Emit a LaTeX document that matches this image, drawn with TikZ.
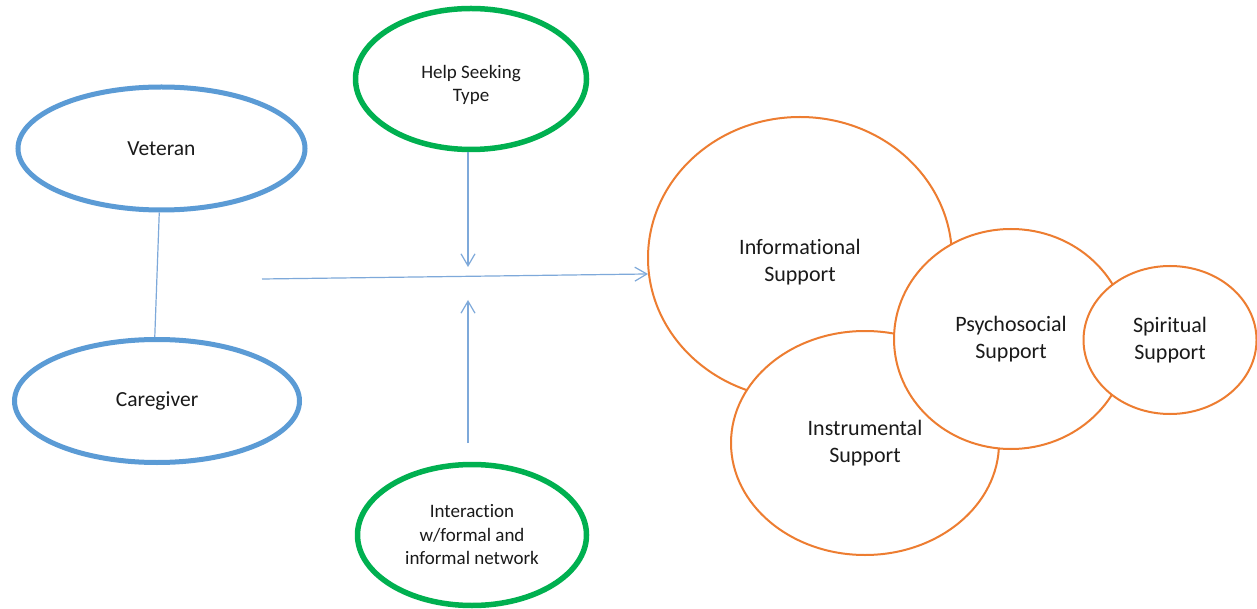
\documentclass[tikz,border=0pt]{standalone}
\usepackage{fontspec}
\setmainfont{Carlito}[Ligatures=NoCommon]
\usetikzlibrary{shapes.geometric,arrows.meta}
\definecolor{vblue}{HTML}{5B9BD5}
\definecolor{lblue}{HTML}{7EA9DA}
\definecolor{vgreen}{HTML}{00B050}
\definecolor{vorange}{HTML}{ED7D31}
\definecolor{txt}{HTML}{1A1A1A}
\tikzset{
  blueell/.style={ellipse, draw=vblue, line width=5pt, fill=white, text=txt, inner sep=0pt,
    font=\fontsize{21.5}{26}\selectfont},
  greenell/.style={ellipse, draw=vgreen, line width=5.5pt, fill=white, text=txt, inner sep=0pt, align=center,
    font=\fontsize{19}{23.5}\selectfont},
  greentext/.style={text=txt, inner sep=0pt, align=center, font=\fontsize{19}{23.5}\selectfont},
  orangeell/.style={ellipse, draw=vorange, line width=2pt, fill=white, text=txt, inner sep=0pt, align=center,
    font=\fontsize{22}{26.7}\selectfont},
  orangetext/.style={text=txt, inner sep=0pt, align=center, font=\fontsize{22}{26.7}\selectfont},
  conn/.style={draw=lblue, line width=1.2pt, -{Straight Barb[length=12pt,width=14pt,line width=1.2pt]}},
  plainconn/.style={draw=lblue, line width=1.2pt}
}
\begin{document}
\begin{tikzpicture}[x=1pt,y=-1pt]
\useasboundingbox[fill=white] (0,0) rectangle (1257,609);
% left pair
\node[blueell, minimum width=287pt, minimum height=123pt] (vet) at (161.5,148.5) {Veteran};
\node[blueell, minimum width=285pt, minimum height=123pt] (care) at (157,401) {Caregiver};
\draw[plainconn] (vet.268) -- (care.92);
% moderators
\node[greenell, minimum width=231pt, minimum height=141pt] (help) at (471,79) {};
\node[greentext] (helptext) at (471,85) {Help Seeking\\Type};
\node[greenell, minimum width=229pt, minimum height=141pt] (inter) at (472,535) {Interaction\\w/formal and\\informal network};
% support circles
\node[orangeell, minimum width=304pt, minimum height=282pt] (info) at (800,258) {};
\node[orangetext] (infotext) at (800,262) {Informational\\Support};
\node[orangeell, minimum width=268pt, minimum height=224pt] (instr) at (865,443) {Instrumental\\Support};
\node[orangeell, minimum width=234pt, minimum height=220pt] (psych) at (1011,339) {Psychosocial\\Support};
\node[orangeell, minimum width=173pt, minimum height=148pt] (spir) at (1170,340) {Spiritual\\Support};
% connectors
\coordinate (hs) at (262,279);
\coordinate (hb) at (468,267);
\coordinate (ib) at (468,443);
\coordinate (it) at (468,300);
\draw[conn] (hs) -- (info.186);
\draw[conn] (help.south -| hb) -- (hb);
\draw[conn] (ib) -- (it);
\end{tikzpicture}
\end{document}
